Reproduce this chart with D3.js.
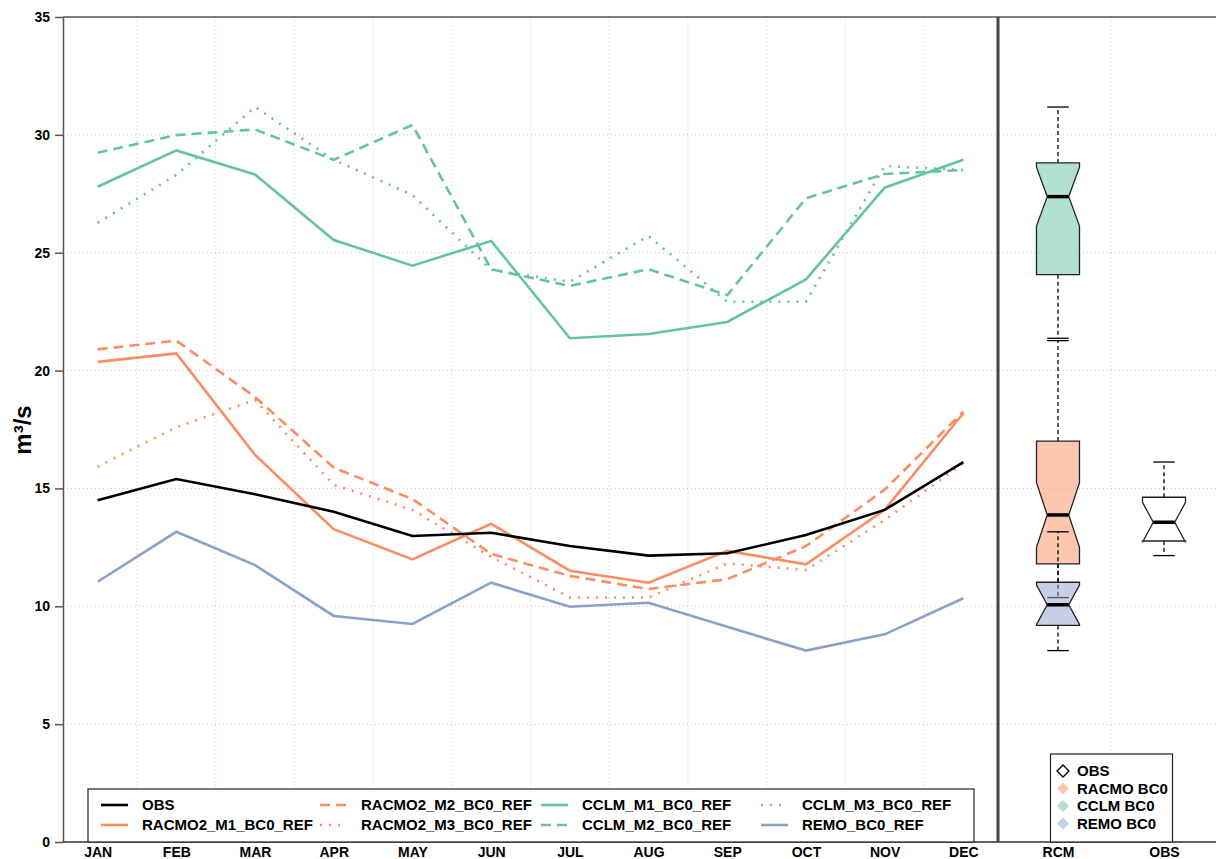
<!DOCTYPE html>
<html>
<head>
<meta charset="utf-8">
<script src="https://cdn.jsdelivr.net/npm/d3@7"></script>
<style>
  body { margin: 0; background: #fff; }
  svg { display: block; font-family: "Liberation Sans", Arial, sans-serif; font-weight: bold; }
</style>
</head>
<body>
<svg id="chart"></svg>
<script>
// monthly mean discharge (m3/s)
const months = ["JAN", "FEB", "MAR", "APR", "MAY", "JUN", "JUL", "AUG", "SEP", "OCT", "NOV", "DEC"];
const yTicks = [0, 5, 10, 15, 20, 25, 30, 35];

const obs      = [14.50, 15.40, 14.75, 14.01, 12.98, 13.12, 12.56, 12.15, 12.25, 13.02, 14.09, 16.12];
const racmoM1  = [20.37, 20.73, 16.42, 13.27, 11.99, 13.50, 11.51, 11.00, 12.35, 11.78, 14.09, 18.19];
const racmoM2  = [20.90, 21.27, 18.88, 15.88, 14.55, 12.22, 11.29, 10.73, 11.15, 12.55, 14.95, 18.26];
const racmoM3  = [15.92, 17.60, 18.75, 15.15, 14.09, 12.10, 10.37, 10.37, 11.82, 11.54, 13.66, 16.07];
const cclmM1   = [27.80, 29.34, 28.32, 25.54, 24.45, 25.50, 21.37, 21.55, 22.06, 23.87, 27.76, 28.94];
const cclmM2   = [29.24, 29.99, 30.23, 28.94, 30.42, 24.30, 23.59, 24.30, 23.20, 27.31, 28.34, 28.51];
const cclmM3   = [26.27, 28.30, 31.18, 28.94, 27.45, 24.27, 23.77, 25.71, 22.92, 22.92, 28.68, 28.51];
const remo     = [11.04, 13.16, 11.75, 9.59, 9.25, 11.00, 9.98, 10.15, 9.13, 8.12, 8.81, 10.34];

const boxGroups = ["RCM", "OBS"];

const W = 1216, H = 859;
const mLeft = 63, mTop = 17, mBottom = 842, split = 998;

const svg = d3.select("#chart").attr("width", W).attr("height", H);

const x = d3.scaleLinear().domain([-0.44, 11.44]).range([mLeft, split]);
const y = d3.scaleLinear().domain([0, 35]).range([mBottom, mTop]);
const xb = d3.scaleLinear().domain([0.434, 2.566]).range([split, 1224]);

const green = "#66c2a5", orange = "#fc8d62", blue = "#8da0cb";

const series = [
  { name: "CCLM_M1_BC0_REF", values: cclmM1, color: green, dash: null },
  { name: "CCLM_M2_BC0_REF", values: cclmM2, color: green, dash: "10,6" },
  { name: "CCLM_M3_BC0_REF", values: cclmM3, color: green, dash: "2,7" },
  { name: "RACMO2_M1_BC0_REF", values: racmoM1, color: orange, dash: null },
  { name: "RACMO2_M2_BC0_REF", values: racmoM2, color: orange, dash: "10,6" },
  { name: "RACMO2_M3_BC0_REF", values: racmoM3, color: orange, dash: "2,7" },
  { name: "REMO_BC0_REF", values: remo, color: blue, dash: null },
  { name: "OBS", values: obs, color: "#000", dash: null }
];

// grid
const grid = svg.append("g").attr("stroke", "#c8c8c8").attr("stroke-dasharray", "1,3").attr("stroke-width", 1);
grid.selectAll(".gh").data(yTicks.filter(d => d > 0 && d < 35)).enter().append("line")
  .attr("x1", mLeft).attr("x2", W).attr("y1", d => y(d)).attr("y2", d => y(d));
grid.selectAll(".gv").data(d3.range(11).map(i => i + 0.5)).enter().append("line")
  .attr("x1", d => x(d)).attr("x2", d => x(d)).attr("y1", mTop).attr("y2", mBottom);
grid.append("line").attr("x1", xb(1.5)).attr("x2", xb(1.5)).attr("y1", mTop).attr("y2", mBottom);

// lines
const line = d3.line().x((d, i) => x(i)).y(d => y(d));
svg.append("g").selectAll("path").data(series).enter().append("path")
  .attr("d", d => line(d.values))
  .attr("fill", "none")
  .attr("stroke", d => d.color)
  .attr("stroke-width", 2.6)
  .attr("stroke-dasharray", d => d.dash);

// box plots (R style fivenum + notches)
function fivenum(v) {
  const s = v.slice().sort((a, b) => a - b), n = s.length;
  const n4 = Math.floor((n + 3) / 2) / 2;
  const d = [1, n4, (n + 1) / 2, n + 1 - n4, n];
  return d.map(k => 0.5 * (s[Math.floor(k) - 1] + s[Math.ceil(k) - 1]));
}

function boxStats(v) {
  const f = fivenum(v);
  const iqr = f[3] - f[1];
  const lo = d3.min(v.filter(a => a >= f[1] - 1.5 * iqr));
  const hi = d3.max(v.filter(a => a <= f[3] + 1.5 * iqr));
  const nh = 1.58 * iqr / Math.sqrt(v.length);
  return { lo, q1: f[1], med: f[2], q3: f[3], hi, n1: f[2] - nh, n2: f[2] + nh };
}

const boxes = [
  { pos: 1, values: [].concat(cclmM1, cclmM2, cclmM3), fill: green },
  { pos: 1, values: [].concat(racmoM1, racmoM2, racmoM3), fill: orange },
  { pos: 1, values: remo, fill: blue },
  { pos: 2, values: obs, fill: "#fff" }
];

const hw = 21.5;
boxes.forEach(b => {
  const s = boxStats(b.values);
  const cx = xb(b.pos);
  const g = svg.append("g");
  g.append("line").attr("x1", cx).attr("x2", cx).attr("y1", y(s.q3)).attr("y2", y(s.hi))
    .attr("stroke", "#000").attr("stroke-width", 1.3).attr("stroke-dasharray", "4,3");
  g.append("line").attr("x1", cx).attr("x2", cx).attr("y1", y(s.q1)).attr("y2", y(s.lo))
    .attr("stroke", "#000").attr("stroke-width", 1.3).attr("stroke-dasharray", "4,3");
  [s.hi, s.lo].forEach(v => {
    g.append("line").attr("x1", cx - hw / 2).attr("x2", cx + hw / 2).attr("y1", y(v)).attr("y2", y(v))
      .attr("stroke", "#000").attr("stroke-width", 1.3);
  });
  const pts = [
    [cx - hw, s.q1], [cx - hw, s.n1], [cx - hw / 2, s.med], [cx - hw, s.n2], [cx - hw, s.q3],
    [cx + hw, s.q3], [cx + hw, s.n2], [cx + hw / 2, s.med], [cx + hw, s.n1], [cx + hw, s.q1]
  ];
  g.append("path")
    .attr("d", d3.line().x(p => p[0]).y(p => y(p[1]))(pts) + "Z")
    .attr("fill", b.fill).attr("fill-opacity", b.fill === "#fff" ? 1 : 0.5)
    .attr("stroke", "#222").attr("stroke-width", 1.3);
  g.append("line").attr("x1", cx - hw / 2).attr("x2", cx + hw / 2).attr("y1", y(s.med)).attr("y2", y(s.med))
    .attr("stroke", "#000").attr("stroke-width", 3.5);
});

// axes
const yAxis = svg.append("g").attr("transform", `translate(${mLeft},0)`)
  .call(d3.axisLeft(y).tickValues(yTicks).tickSize(8).tickSizeOuter(0).tickPadding(5));
yAxis.select(".domain").attr("stroke", "#555").attr("stroke-width", 1.5);
yAxis.selectAll(".tick line").attr("stroke", "#555").attr("stroke-width", 1.5);

const xAxis = svg.append("g").attr("transform", `translate(0,${mBottom})`)
  .call(d3.axisBottom(x).tickValues(d3.range(12)).tickFormat(i => months[i]).tickSize(0).tickPadding(5));
xAxis.select(".domain").remove();
const xbAxis = svg.append("g").attr("transform", `translate(0,${mBottom})`)
  .call(d3.axisBottom(xb).tickValues([1, 2]).tickFormat(i => boxGroups[i - 1]).tickSize(0).tickPadding(5));
xbAxis.select(".domain").remove();
svg.selectAll(".tick text").attr("font-size", 14).attr("font-weight", "bold").attr("fill", "#000")
  .attr("font-family", "Liberation Sans, Arial, sans-serif");

// frame
svg.append("line").attr("x1", mLeft).attr("x2", W).attr("y1", mTop).attr("y2", mTop)
  .attr("stroke", "#555").attr("stroke-width", 1.5);
svg.append("line").attr("x1", mLeft).attr("x2", W).attr("y1", mBottom).attr("y2", mBottom)
  .attr("stroke", "#333").attr("stroke-width", 1.5);
svg.append("line").attr("x1", split).attr("x2", split).attr("y1", mTop).attr("y2", mBottom)
  .attr("stroke", "#444").attr("stroke-width", 3);

// y title
svg.append("text")
  .attr("transform", `translate(31,430) rotate(-90)`)
  .attr("text-anchor", "middle")
  .attr("font-size", 24)
  .text("m³/s");

// main legend
const legendOrder = ["OBS", "RACMO2_M1_BC0_REF", "RACMO2_M2_BC0_REF", "RACMO2_M3_BC0_REF",
  "CCLM_M1_BC0_REF", "CCLM_M2_BC0_REF", "CCLM_M3_BC0_REF", "REMO_BC0_REF"];
const colX = [142, 361, 582, 802];
const rowY = [805, 825];
const lg = svg.append("g");
lg.append("rect").attr("x", 88).attr("y", 789).attr("width", 886).attr("height", mBottom - 789)
  .attr("fill", "#fff").attr("stroke", "#222").attr("stroke-width", 1.2);
legendOrder.forEach((name, k) => {
  const s = series.find(d => d.name === name);
  const tx = colX[Math.floor(k / 2)], ty = rowY[k % 2];
  lg.append("line").attr("x1", tx - 41).attr("x2", tx - 14).attr("y1", ty).attr("y2", ty)
    .attr("stroke", s.color).attr("stroke-width", 2.6).attr("stroke-dasharray", s.dash);
  lg.append("text").attr("x", tx).attr("y", ty).attr("dy", "0.36em").attr("font-size", 15).text(name);
});

// box legend
const boxLegend = [
  { label: "OBS", fill: "#fff", stroke: "#000" },
  { label: "RACMO BC0", fill: orange, stroke: "none" },
  { label: "CCLM BC0", fill: green, stroke: "none" },
  { label: "REMO BC0", fill: blue, stroke: "none" }
];
const bl = svg.append("g");
bl.append("rect").attr("x", 1050.5).attr("y", 754).attr("width", 122).attr("height", mBottom - 754)
  .attr("fill", "#fff").attr("stroke", "#222").attr("stroke-width", 1.2);
const diamond = "M0,-6L6,0L0,6L-6,0Z";
boxLegend.forEach((d, i) => {
  const ty = 771 + i * 17.5;
  bl.append("path").attr("d", diamond).attr("transform", `translate(1063,${ty})`)
    .attr("fill", d.fill).attr("fill-opacity", d.stroke === "none" ? 0.5 : 1)
    .attr("stroke", d.stroke).attr("stroke-width", 1.3);
  bl.append("text").attr("x", 1077).attr("y", ty).attr("dy", "0.36em").attr("font-size", 15).text(d.label);
});
</script>
</body>
</html>
